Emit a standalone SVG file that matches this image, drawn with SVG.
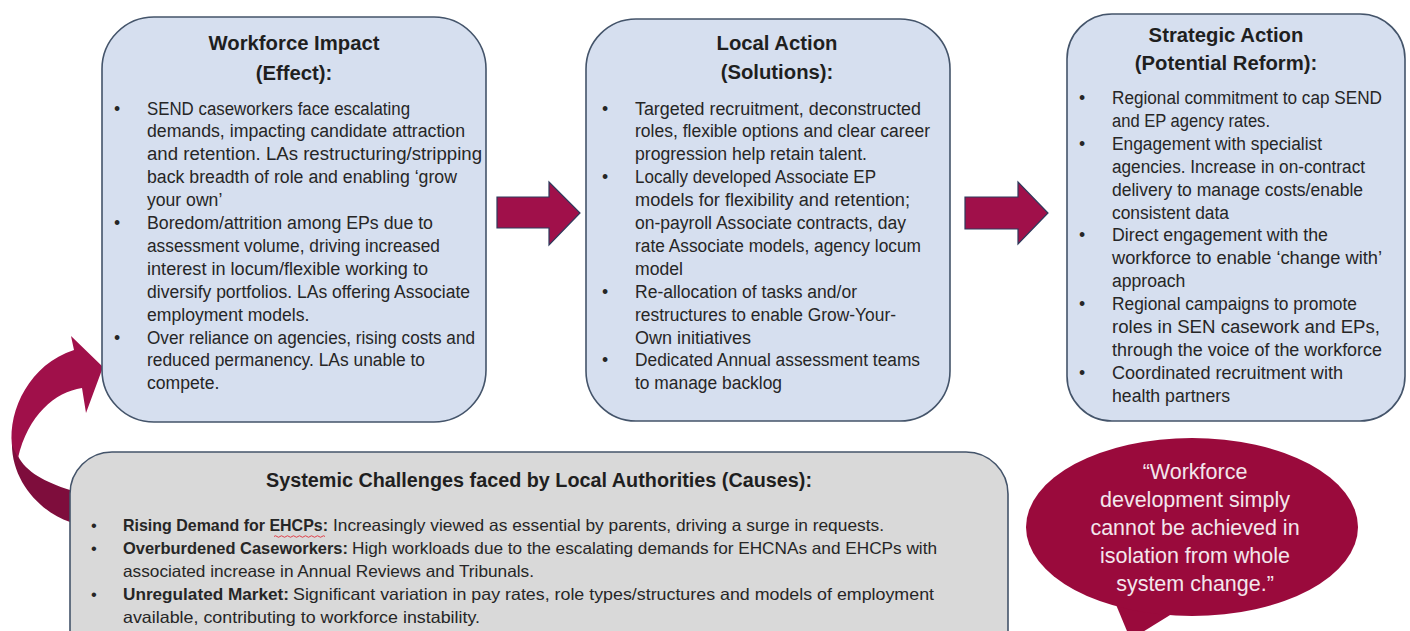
<svg xmlns="http://www.w3.org/2000/svg" width="1410" height="631" viewBox="0 0 1410 631">
<style>
.box{fill:#D6DFEF;stroke:#44546A;stroke-width:1.6}
.gbox{fill:#D9D9D9;stroke:#44546A;stroke-width:1.6}
.t{font-family:"Liberation Sans",Arial,sans-serif;font-size:17.6px;fill:#262626}
.h{font-family:"Liberation Sans",Arial,sans-serif;font-size:20.3px;font-weight:bold;fill:#1f1f1f;text-anchor:middle}
.b{font-family:"Liberation Sans",Arial,sans-serif;font-size:16.5px;fill:#262626}
.bb{font-weight:bold}
.arrow{fill:#A0104A;stroke:#2E3A5C;stroke-width:1.2}
.q{font-family:"Liberation Sans",Arial,sans-serif;font-size:21.5px;fill:#F3E6EC;text-anchor:middle}
</style>
<rect width="1410" height="631" fill="#FFFFFF"/>
<g id="connectors">
<path class="arrow" d="M497,197 L549,197 L549,182 L580,213 L549,245 L549,228 L497,228 Z"/>
<path class="arrow" d="M965,197 L1018,197 L1018,182 L1048,213 L1018,244 L1018,229 L965,229 Z"/>
<path d="M12,440 C10,480 40,512 70,522 L70,490 C45,482 26,472 18,456 Z" fill="#7E0D3C"/>
<path d="M74,350 L71,336 L103,367 L86,413 L82,388 C55,392 28,415 18,458 L12,445 C8,410 30,364 74,350 Z" fill="#A0104A"/>
</g>
<g id="workforce-impact">
<rect class="box" x="102" y="17" width="384" height="405" rx="52"/>
<text class="h" x="294" y="50">Workforce Impact</text>
<text class="h" x="294" y="80">(Effect):</text>
<text class="t" x="114" y="114.5">•</text>
<text class="t" x="147" y="114.5" textLength="263" lengthAdjust="spacingAndGlyphs">SEND caseworkers face escalating</text>
<text class="t" x="147" y="137.4" textLength="318" lengthAdjust="spacingAndGlyphs">demands, impacting candidate attraction</text>
<text class="t" x="147" y="160.3" textLength="335" lengthAdjust="spacingAndGlyphs">and retention. LAs restructuring/stripping</text>
<text class="t" x="147" y="183.2" textLength="310" lengthAdjust="spacingAndGlyphs">back breadth of role and enabling ‘grow</text>
<text class="t" x="147" y="206.1">your own’</text>
<text class="t" x="114" y="229">•</text>
<text class="t" x="147" y="229" textLength="286" lengthAdjust="spacingAndGlyphs">Boredom/attrition among EPs due to</text>
<text class="t" x="147" y="251.9" textLength="293" lengthAdjust="spacingAndGlyphs">assessment volume, driving increased</text>
<text class="t" x="147" y="274.8" textLength="281" lengthAdjust="spacingAndGlyphs">interest in locum/flexible working to</text>
<text class="t" x="147" y="297.7" textLength="323" lengthAdjust="spacingAndGlyphs">diversify portfolios. LAs offering Associate</text>
<text class="t" x="147" y="320.6">employment models.</text>
<text class="t" x="114" y="343.5">•</text>
<text class="t" x="147" y="343.5" textLength="328" lengthAdjust="spacingAndGlyphs">Over reliance on agencies, rising costs and</text>
<text class="t" x="147" y="366.4" textLength="278" lengthAdjust="spacingAndGlyphs">reduced permanency. LAs unable to</text>
<text class="t" x="147" y="389.3">compete.</text>
</g>
<g id="local-action">
<rect class="box" x="586" y="19" width="364" height="402" rx="50"/>
<text class="h" x="777" y="50">Local Action</text>
<text class="h" x="777" y="79">(Solutions):</text>
<text class="t" x="602" y="114.5">•</text>
<text class="t" x="635" y="114.5" textLength="286" lengthAdjust="spacingAndGlyphs">Targeted recruitment, deconstructed</text>
<text class="t" x="635" y="137.4" textLength="295" lengthAdjust="spacingAndGlyphs">roles, flexible options and clear career</text>
<text class="t" x="635" y="160.3" textLength="232" lengthAdjust="spacingAndGlyphs">progression help retain talent.</text>
<text class="t" x="602" y="183.2">•</text>
<text class="t" x="635" y="183.2" textLength="241" lengthAdjust="spacingAndGlyphs">Locally developed Associate EP</text>
<text class="t" x="635" y="206.1" textLength="275" lengthAdjust="spacingAndGlyphs">models for flexibility and retention;</text>
<text class="t" x="635" y="229" textLength="271" lengthAdjust="spacingAndGlyphs">on-payroll Associate contracts, day</text>
<text class="t" x="635" y="251.9" textLength="286" lengthAdjust="spacingAndGlyphs">rate Associate models, agency locum</text>
<text class="t" x="635" y="274.8">model</text>
<text class="t" x="602" y="297.7">•</text>
<text class="t" x="635" y="297.7" textLength="222" lengthAdjust="spacingAndGlyphs">Re-allocation of tasks and/or</text>
<text class="t" x="635" y="320.6" textLength="261" lengthAdjust="spacingAndGlyphs">restructures to enable Grow-Your-</text>
<text class="t" x="635" y="343.5" textLength="116" lengthAdjust="spacingAndGlyphs">Own initiatives</text>
<text class="t" x="602" y="366.4">•</text>
<text class="t" x="635" y="366.4" textLength="285" lengthAdjust="spacingAndGlyphs">Dedicated Annual assessment teams</text>
<text class="t" x="635" y="389.3" textLength="147" lengthAdjust="spacingAndGlyphs">to manage backlog</text>
</g>
<g id="strategic-action">
<rect class="box" x="1067" y="14" width="338" height="407" rx="45"/>
<text class="h" x="1226" y="42">Strategic Action</text>
<text class="h" x="1226" y="70">(Potential Reform):</text>
<text class="t" x="1079" y="104">•</text>
<text class="t" x="1112" y="104" textLength="270" lengthAdjust="spacingAndGlyphs">Regional commitment to cap SEND</text>
<text class="t" x="1112" y="126.9" textLength="158" lengthAdjust="spacingAndGlyphs">and EP agency rates.</text>
<text class="t" x="1079" y="149.8">•</text>
<text class="t" x="1112" y="149.8" textLength="210" lengthAdjust="spacingAndGlyphs">Engagement with specialist</text>
<text class="t" x="1112" y="172.7" textLength="253" lengthAdjust="spacingAndGlyphs">agencies. Increase in on-contract</text>
<text class="t" x="1112" y="195.6" textLength="251" lengthAdjust="spacingAndGlyphs">delivery to manage costs/enable</text>
<text class="t" x="1112" y="218.5" textLength="117" lengthAdjust="spacingAndGlyphs">consistent data</text>
<text class="t" x="1079" y="241.4">•</text>
<text class="t" x="1112" y="241.4" textLength="216" lengthAdjust="spacingAndGlyphs">Direct engagement with the</text>
<text class="t" x="1112" y="264.3" textLength="270" lengthAdjust="spacingAndGlyphs">workforce to enable ‘change with’</text>
<text class="t" x="1112" y="287.2">approach</text>
<text class="t" x="1079" y="310.1">•</text>
<text class="t" x="1112" y="310.1" textLength="245" lengthAdjust="spacingAndGlyphs">Regional campaigns to promote</text>
<text class="t" x="1112" y="333" textLength="268" lengthAdjust="spacingAndGlyphs">roles in SEN casework and EPs,</text>
<text class="t" x="1112" y="355.9" textLength="270" lengthAdjust="spacingAndGlyphs">through the voice of the workforce</text>
<text class="t" x="1079" y="378.8">•</text>
<text class="t" x="1112" y="378.8" textLength="231" lengthAdjust="spacingAndGlyphs">Coordinated recruitment with</text>
<text class="t" x="1112" y="401.7" textLength="118" lengthAdjust="spacingAndGlyphs">health partners</text>
</g>
<g id="systemic-challenges">
<rect class="gbox" x="70" y="452" width="938" height="230" rx="42"/>
<text class="h" x="539" y="487" textLength="546" lengthAdjust="spacingAndGlyphs">Systemic Challenges faced by Local Authorities (Causes):</text>
<text class="b" x="91" y="531">•</text>
<text class="b bb" x="123" y="531" textLength="205" lengthAdjust="spacingAndGlyphs">Rising Demand for EHCPs:</text>
<path d="M274,536.5 q1.5,-1.5 3,0 t3,0 t3,0 t3,0 t3,0 t3,0 t3,0 t3,0 t3,0 t3,0 t3,0 t3,0 t3,0 t3,0 t3,0 t3,0 t3,0" fill="none" stroke="#E0303A" stroke-width="0.9"/>
<text class="b" x="333" y="531" textLength="551" lengthAdjust="spacingAndGlyphs">Increasingly viewed as essential by parents, driving a surge in requests.</text>
<text class="b" x="91" y="554">•</text>
<text class="b bb" x="123" y="554" textLength="225" lengthAdjust="spacingAndGlyphs">Overburdened Caseworkers:</text>
<text class="b" x="352" y="554" textLength="585" lengthAdjust="spacingAndGlyphs">High workloads due to the escalating demands for EHCNAs and EHCPs with</text>
<text class="b" x="123" y="577" textLength="411" lengthAdjust="spacingAndGlyphs">associated increase in Annual Reviews and Tribunals.</text>
<text class="b" x="91" y="600">•</text>
<text class="b bb" x="123" y="600" textLength="166" lengthAdjust="spacingAndGlyphs">Unregulated Market:</text>
<text class="b" x="293" y="600" textLength="641" lengthAdjust="spacingAndGlyphs">Significant variation in pay rates, role types/structures and models of employment</text>
<text class="b" x="123" y="623" textLength="357" lengthAdjust="spacingAndGlyphs">available, contributing to workforce instability.</text>
</g>
<g id="quote-bubble">
<path d="M1112,595 L1130.5,639.5 L1175,612 Z" fill="#9A0A3C"/>
<ellipse cx="1192" cy="527" rx="166" ry="89" fill="#9A0A3C"/>
<text class="q" x="1195" y="479">“Workforce</text>
<text class="q" x="1195" y="507">development simply</text>
<text class="q" x="1195" y="535">cannot be achieved in</text>
<text class="q" x="1195" y="563">isolation from whole</text>
<text class="q" x="1195" y="591">system change.”</text>
</g>
</svg>
